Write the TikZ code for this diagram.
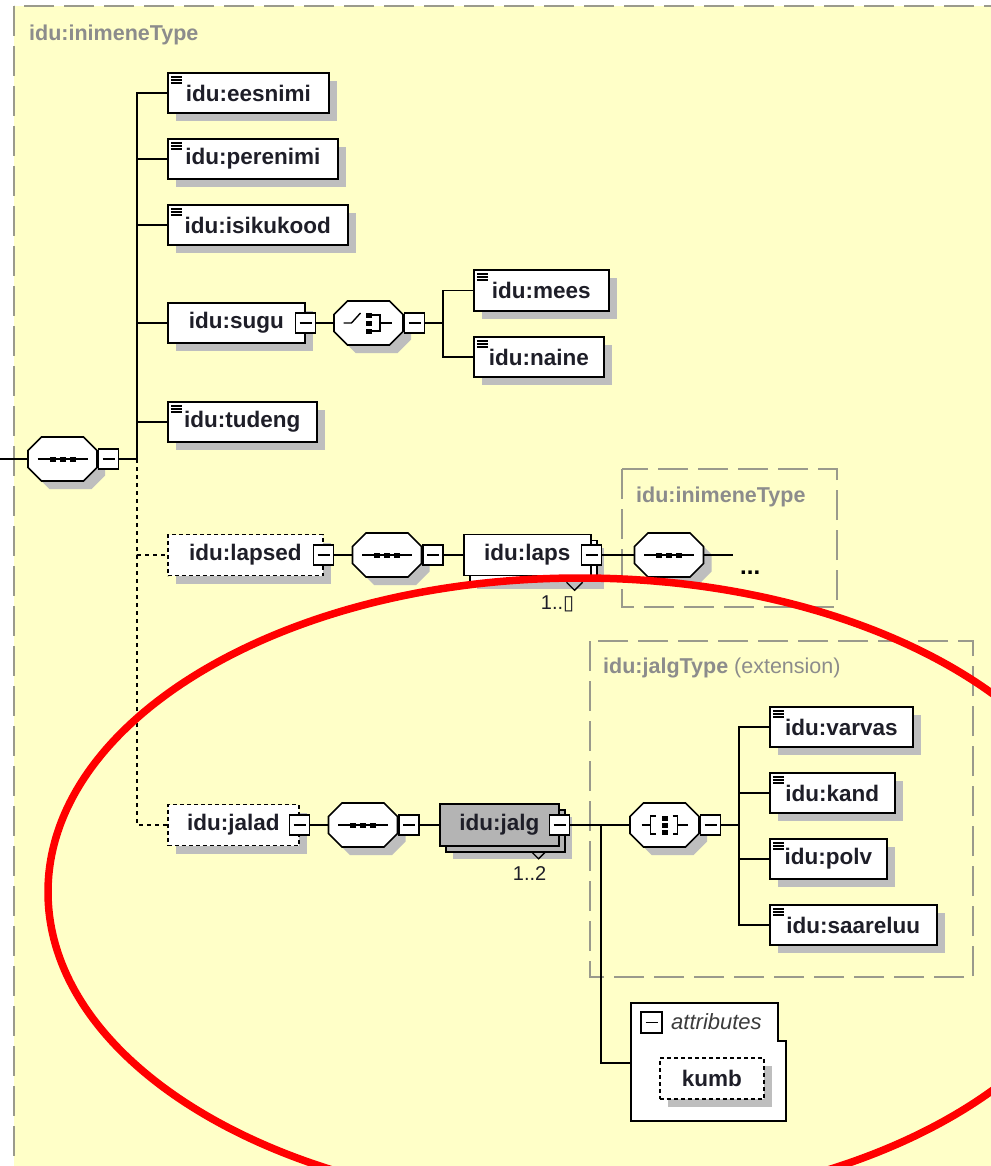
\documentclass[tikz,border=0pt]{standalone}
\usepackage{fontspec}
\setmainfont{Liberation Sans}
\newfontfamily\dejavu{DejaVu Sans}
\usepackage{tikz}
\usetikzlibrary{shapes.misc, shadows, positioning}
\definecolor{SchemaYellow}{HTML}{FFFFC8}
\definecolor{FrameGray}{HTML}{9A9A8C}
\definecolor{TitleGray}{HTML}{8C8C8C}
\definecolor{ShadowGray}{HTML}{BEBEBE}
\definecolor{JalgGray}{HTML}{B4B4B4}
\definecolor{TextDark}{HTML}{1E1E28}
\definecolor{AttrGray}{HTML}{3C3C3C}
\definecolor{MarkRed}{HTML}{FF0000}
\tikzset{
  % Box styles
  boxbase/.style={rectangle, draw=black, line width=1.6pt, fill=white, anchor=west, minimum height=40pt, inner sep=0pt, text=TextDark, font={\fontsize{22.5}{26}\selectfont\bfseries}},
  elembox/.style={boxbase, drop shadow={shadow xshift=8pt, shadow yshift=-8pt, fill=ShadowGray, opacity=1}},
  leafbox/.style={elembox, path picture={\foreach \k in {4,7,10} \draw[line width=1.2pt] ([xshift=3pt, yshift=-\k pt]path picture bounding box.north west) -- +(11pt,0pt);}},
  optbox/.style={elembox, dash pattern=on 4pt off 3pt},
  multibox/.style={boxbase, fill=#1, drop shadow={shadow xshift=13pt, shadow yshift=-13pt, fill=ShadowGray, opacity=1}, copy shadow={shadow xshift=6pt, shadow yshift=-6pt, draw=black, fill=#1, line width=1.6pt}},
  multibox/.default=white,
  minusbox/.style={rectangle, draw=black, line width=1.5pt, fill=white, minimum size=20pt, inner sep=0pt, path picture={\draw[line width=1.4pt] ([xshift=-6pt]path picture bounding box.center) -- ([xshift=6pt]path picture bounding box.center);}},
  % Compositor styles
  compbox/.style={chamfered rectangle, chamfered rectangle xsep=10pt, inner xsep=24.5pt, inner ysep=18.5pt, draw=black, line width=1.6pt, fill=white, drop shadow={shadow xshift=8pt, shadow yshift=-8pt, fill=ShadowGray, opacity=1}},
  seqbox/.style={compbox, path picture={
      \draw[line width=1.4pt] ([xshift=-25pt]path picture bounding box.center) -- ([xshift=25pt]path picture bounding box.center);
      \foreach \d in {-10,0,10} \fill[black] ([xshift=\d pt]path picture bounding box.center) +(-3pt,-2.5pt) rectangle +(3pt,2.5pt);}},
  choicebox/.style={compbox, path picture={
      \draw[line width=1.4pt] ([xshift=-25pt]path picture bounding box.center) -- ++(8pt,0pt) -- ++(9pt,10pt);
      \foreach \d in {-8,0,8} \fill[black] ([xshift=0.5pt, yshift=\d pt]path picture bounding box.center) +(-3pt,-2.5pt) rectangle +(3pt,2.5pt);
      \draw[line width=1.4pt] ([xshift=3.5pt, yshift=8pt]path picture bounding box.center) -- ++(8pt,0pt) -- ++(0pt,-16pt) -- ++(-8pt,0pt);
      \draw[line width=1.4pt] ([xshift=11.5pt]path picture bounding box.center) -- ++(12pt,0pt);}},
  allbox/.style={compbox, path picture={
      \draw[line width=1.4pt] ([xshift=-23pt]path picture bounding box.center) -- ++(9pt,0pt);
      \draw[line width=1.4pt] ([xshift=-9pt, yshift=9pt]path picture bounding box.center) -- ++(-5pt,0pt) -- ++(0pt,-18pt) -- ++(5pt,0pt);
      \foreach \d in {-7,0,7} \fill[black] ([yshift=\d pt]path picture bounding box.center) +(-3pt,-2.5pt) rectangle +(3pt,2.5pt);
      \draw[line width=1.4pt] ([xshift=8pt, yshift=9pt]path picture bounding box.center) -- ++(5pt,0pt) -- ++(0pt,-18pt) -- ++(-5pt,0pt);
      \draw[line width=1.4pt] ([xshift=13pt]path picture bounding box.center) -- ++(10pt,0pt);}},
  % Frame styles
  typeframe/.style={draw=FrameGray, line width=1.5pt, dash pattern=on 30pt off 10pt, fill=SchemaYellow},
  typetitle/.style={anchor=west, inner sep=0pt, text=TitleGray, font={\fontsize{21.5}{26}\selectfont\bfseries}},
  multlabel/.style={inner sep=0pt, text=TextDark, font={\fontsize{20}{24}\selectfont}},
  % Connector styles
  conn/.style={draw=black, line width=1.6pt},
  dotconn/.style={conn, dash pattern=on 4pt off 4pt}
}
\begin{document}
\begin{tikzpicture}[x=1pt, y=-1pt]
  \useasboundingbox (0,0) rectangle (990,1166);
  \fill[white] (0,0) rectangle (990,1166);

  % Type frames
  \draw[typeframe] (14,6) rectangle (1010,1190);
  \node[typetitle] (outertitle) at (29,35) {idu:inimeneType};
  \draw[typeframe] (622,469) rectangle (837,607);
  \node[typetitle] (innertitle) at (636,497) {idu:inimeneType};
  \draw[typeframe] (590,641) rectangle (973,977);
  \node[typetitle] (jalgtitle) at (603,668) {idu:jalgType \textmd{(extension)}};

  % Main sequence
  \node[seqbox] (seq1) at (62.5,459) {};
  \node[minusbox, right=0pt of seq1] (seq1m) {};
  \coordinate (entry) at (0,459);
  \coordinate (trunk) at (137,459);

  % Simple elements
  \node[leafbox, minimum width=161pt] (eesnimi) at (167,93) {idu:eesnimi};
  \node[leafbox, minimum width=170pt] (perenimi) at (167,159) {idu:perenimi};
  \node[leafbox, minimum width=180pt] (isikukood) at (167,225) {idu:isikukood};
  \node[elembox, minimum width=137pt] (sugu) at (167,323) {idu:sugu};
  \node[minusbox] (sugum) at (sugu.east) {};
  \node[leafbox, minimum width=149pt] (tudeng) at (167,422) {idu:tudeng};

  % Choice for sugu
  \node[choicebox] (choice1) at (368.5,323) {};
  \node[minusbox, right=0pt of choice1] (choice1m) {};
  \coordinate (ch1br) at (443,323);
  \node[leafbox, minimum width=135pt, minimum height=41pt] (mees) at (473,290.5) {idu:mees};
  \node[leafbox, minimum width=130pt] (naine) at (473,357) {idu:naine};

  % lapsed row
  \node[optbox, minimum width=155pt, minimum height=41pt] (lapsed) at (167,555) {idu:lapsed};
  \node[minusbox] (lapsedm) at (lapsed.east) {};
  \node[seqbox] (seq2) at (387,555) {};
  \node[minusbox, right=0pt of seq2] (seq2m) {};
  \node[multibox, minimum width=127pt, minimum height=41pt] (laps) at (463,555) {idu:laps};
  \node[minusbox] (lapsm) at (laps.east) {};
  \draw[line width=1.3pt] ([xshift=-25pt, yshift=-6pt]laps.south east) -- ++(8pt,-8pt) -- ++(8pt,8pt);
  \node[multlabel] (lapsmult) at ([xshift=-34pt, yshift=-28pt]laps.south east) {1..{\dejavu ▯}};
  \node[seqbox] (seq3) at (669,555) {};
  \coordinate (more) at (733,555);
  \node[anchor=west, inner sep=0pt, font={\fontsize{24}{28}\selectfont\bfseries}] (moredots) at (740,573) {...};

  % jalad row
  \node[optbox, minimum width=131pt, minimum height=41pt] (jalad) at (167,825) {idu:jalad};
  \node[minusbox] (jaladm) at (jalad.east) {};
  \node[seqbox] (seq4) at (363,825) {};
  \node[minusbox, right=0pt of seq4] (seq4m) {};
  \node[multibox=JalgGray, minimum width=119pt, minimum height=42pt] (jalg) at (439,825) {idu:jalg};
  \node[minusbox] (jalgm) at (jalg.east) {};
  \draw[line width=1.3pt] ([xshift=-28pt, yshift=-5pt]jalg.south east) -- ++(7pt,-7pt) -- ++(7pt,7pt);
  \node[multlabel] (jalgmult) at ([xshift=-30pt, yshift=-27pt]jalg.south east) {1..2};
  \coordinate (jbr) at (601,825);

  % jalgType content
  \node[allbox] (all1) at (664.5,825) {};
  \node[minusbox, right=0pt of all1] (all1m) {};
  \coordinate (allbr) at (739,825);
  \node[leafbox, minimum width=143pt] (varvas) at (769,727) {idu:varvas};
  \node[leafbox, minimum width=125pt] (kand) at (769,793) {idu:kand};
  \node[leafbox, minimum width=117pt] (polv) at (769,859) {idu:polv};
  \node[leafbox, minimum width=167pt] (saareluu) at (769,925) {idu:saareluu};

  % Attributes
  \draw[line width=1.6pt, fill=white] (631,1003) -- (778,1003) -- (778,1041) -- (786,1041) -- (786,1121) -- (631,1121) -- cycle;
  \coordinate (attrs) at (631,1063);
  \node[minusbox, minimum size=21pt] (attrm) at (651.5,1022.5) {};
  \node[anchor=west, inner sep=0pt, text=AttrGray, font={\fontsize{22}{26}\selectfont\itshape}] (attrlabel) at (671,1022) {attributes};
  \node[optbox, minimum width=104pt, minimum height=41pt] (kumb) at (659,1078.5) {kumb};

  % Connectors
  \draw[conn] (entry) -- (seq1);
  \draw[conn] (seq1m) -- (trunk);
  \foreach \n in {eesnimi, perenimi, isikukood, sugu, tudeng}
    \draw[conn] (trunk) |- (\n);
  \draw[dotconn] (trunk) |- (lapsed);
  \draw[dotconn] (trunk) |- (jalad);
  \draw[conn] (sugum) -- (choice1);
  \draw[conn] (choice1m) -- (ch1br);
  \draw[conn] (ch1br) |- (mees);
  \draw[conn] (ch1br) |- (naine);
  \draw[conn] (lapsedm) -- (seq2);
  \draw[conn] (seq2m) -- (laps);
  \draw[conn] (lapsm) -- (seq3);
  \draw[conn] (seq3) -- (more);
  \draw[conn] (jaladm) -- (seq4);
  \draw[conn] (seq4m) -- (jalg);
  \draw[conn] (jalgm) -- (jbr) -- (all1);
  \draw[conn] (jbr) |- (attrs);
  \draw[conn] (all1m) -- (allbr);
  \foreach \n in {varvas, kand, polv, saareluu}
    \draw[conn] (allbr) |- (\n);

  % Red mark
  \draw[MarkRed, line width=7.5pt] (580,892) ellipse [x radius=532, y radius=314];
\end{tikzpicture}
\end{document}
